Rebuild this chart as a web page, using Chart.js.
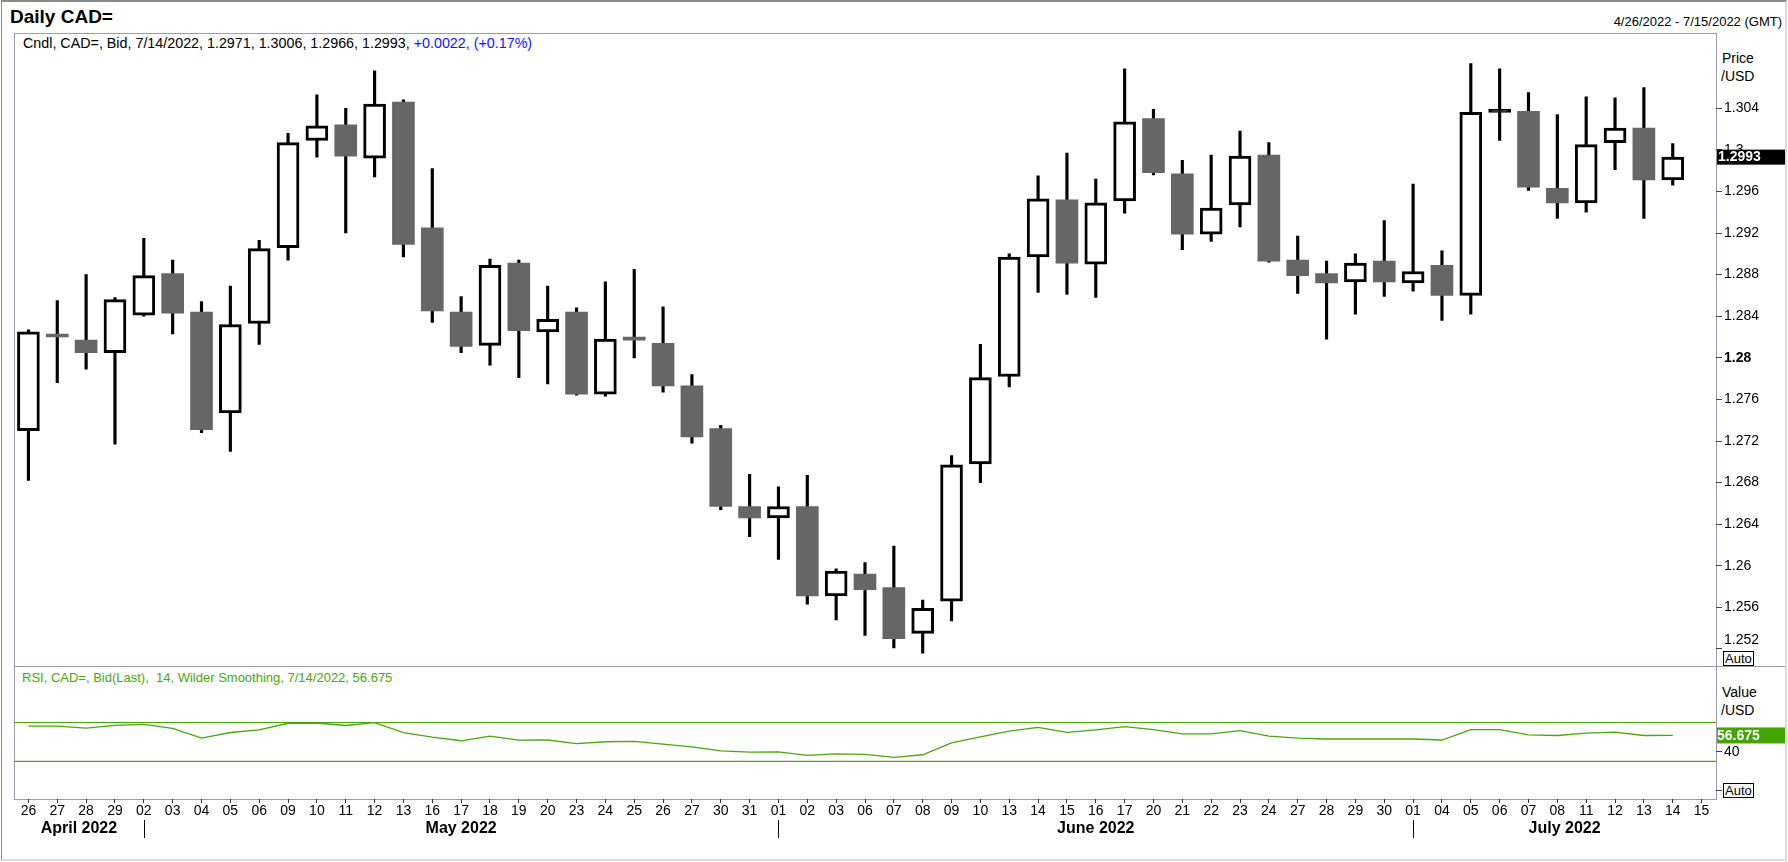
<!DOCTYPE html>
<html>
<head>
<meta charset="utf-8">
<script src="https://cdn.jsdelivr.net/npm/chart.js@4.4.1/dist/chart.umd.min.js"></script>
<style>
  html, body { margin: 0; padding: 0; background: #fff; }
  body { width: 1788px; height: 862px; position: relative; overflow: hidden; font-family: 'Liberation Sans', Arial, sans-serif; color: #000; }
  .frame { position: absolute; left: 1px; top: 0; width: 1786px; height: 861px; box-sizing: border-box;
    border-top: 2px solid #8a8a8a; border-left: 1px solid #8a8a8a; border-right: 2px solid #dcdcdc; border-bottom: 2px solid #dcdcdc; }
  .ln { position: absolute; background: #9c9cac; }
  .txt { position: absolute; white-space: pre; }
  .auto { position: absolute; border: 1px solid #000; font-size: 13px; line-height: 13px; padding: 0 1px; background: #fff; }
  #priceWrap { position: absolute; left: 0; top: 23px; width: 1788px; height: 653px; }
  #rsiWrap { position: absolute; left: 0; top: 656px; width: 1788px; height: 193px; }
</style>
</head>
<body>
<div class="frame"></div>
<div class="ln" style="left:14px;top:33px;width:1703px;height:1px"></div>
<div class="ln" style="left:14px;top:33px;width:1px;height:767px"></div>
<div class="ln" style="left:1716px;top:33px;width:1px;height:767px"></div>
<div class="ln" style="left:14px;top:666px;width:1771px;height:1px"></div>
<div class="ln" style="left:14px;top:799px;width:1703px;height:1px"></div>

<div class="txt" style="left:10px;top:6px;font-size:19px;line-height:22px;font-weight:bold">Daily CAD=</div>
<div class="txt" style="right:6px;top:14px;font-size:13px;line-height:16px">4/26/2022 - 7/15/2022 (GMT)</div>
<div class="txt" style="left:23px;top:34.5px;font-size:14.3px;line-height:16px">Cndl, CAD=, Bid, 7/14/2022, 1.2971, 1.3006, 1.2966, 1.2993, <span style="color:#1414ff">+0.0022, (+0.17%)</span></div>
<div class="txt" style="left:1722px;top:50px;font-size:14px;line-height:16px">Price</div>
<div class="txt" style="left:1721px;top:68px;font-size:14px;line-height:16px">/USD</div>
<div class="auto" style="left:1723px;top:651px">Auto</div>

<div class="txt" style="left:22px;top:670px;font-size:13px;line-height:16px;color:#4da60c">RSI, CAD=, Bid(Last),  14, Wilder Smoothing, 7/14/2022, 56.675</div>
<div class="txt" style="left:1722px;top:684px;font-size:14px;line-height:16px">Value</div>
<div class="txt" style="left:1721px;top:702px;font-size:14px;line-height:16px">/USD</div>
<div class="auto" style="left:1723px;top:783px">Auto</div>

<div id="priceWrap"><canvas id="priceChart"></canvas></div>
<div id="rsiWrap"><canvas id="rsiChart"></canvas></div>

<script>
// trading days 26 Apr - 15 Jul 2022
const days = ['26','27','28','29','02','03','04','05','06','09','10','11','12','13','16','17','18','19','20','23',
  '24','25','26','27','30','31','01','02','03','06','07','08','09','10','13','14','15','16','17','20',
  '21','22','23','24','27','28','29','30','01','04','05','06','07','08','11','12','13','14','15'];
const monthNames = ['April 2022', 'May 2022', 'June 2022', 'July 2022'];
const monthStart = [0, 4, 26, 48];

const opens = [1.2730,1.2821,1.2817,1.2805,1.2841,1.2881,1.2844,1.2747,1.2833,1.2906,
  1.3009,1.3024,1.2992,1.3046,1.2925,1.2844,1.2812,1.2891,1.2825,1.2844,
  1.2765,1.2818,1.2814,1.2773,1.2732,1.2657,1.2646,1.2657,1.2571,1.2592,
  1.2579,1.2535,1.2566,1.2698,1.2782,1.2897,1.2952,1.2890,1.2951,1.3030,
  1.2977,1.2919,1.2947,1.2995,1.2894,1.2881,1.2873,1.2893,1.2872,1.2889,
  1.2860,1.3036,1.3037,1.2963,1.2949,1.3007,1.3021,1.2971];
const highs = [1.2827,1.2855,1.2880,1.2858,1.2915,1.2894,1.2854,1.2869,1.2913,1.3016,
  1.3053,1.3040,1.3076,1.3048,1.2982,1.2859,1.2895,1.2894,1.2869,1.2848,
  1.2873,1.2885,1.2849,1.2784,1.2735,1.2688,1.2676,1.2687,1.2597,1.2603,
  1.2619,1.2567,1.2706,1.2813,1.2900,1.2975,1.2997,1.2972,1.3078,1.3039,
  1.2990,1.2995,1.3018,1.3007,1.2917,1.2893,1.2900,1.2932,1.2967,1.2903,
  1.3083,1.3078,1.3055,1.3034,1.3051,1.3050,1.3060,1.3006];
const lows = [1.2682,1.2776,1.2789,1.2717,1.2840,1.2823,1.2728,1.2710,1.2813,1.2894,
  1.2993,1.2920,1.2974,1.2897,1.2834,1.2805,1.2793,1.2781,1.2775,1.2764,
  1.2763,1.2800,1.2767,1.2718,1.2654,1.2628,1.2606,1.2563,1.2548,1.2533,
  1.2521,1.2516,1.2547,1.2680,1.2772,1.2863,1.2861,1.2858,1.2939,1.2976,
  1.2904,1.2912,1.2926,1.2892,1.2862,1.2818,1.2842,1.2859,1.2864,1.2836,
  1.2842,1.3009,1.2961,1.2934,1.2940,1.2981,1.2934,1.2966];
const closes = [1.2825,1.2820,1.2805,1.2856,1.2879,1.2843,1.2731,1.2832,1.2905,1.3007,
  1.3023,1.2994,1.3044,1.2909,1.2845,1.2811,1.2889,1.2826,1.2837,1.2765,
  1.2818,1.2817,1.2773,1.2724,1.2657,1.2646,1.2657,1.2571,1.2595,1.2577,
  1.2530,1.2559,1.2697,1.2781,1.2897,1.2953,1.2891,1.2949,1.3027,1.2978,
  1.2919,1.2944,1.2994,1.2893,1.2879,1.2872,1.2891,1.2873,1.2883,1.2860,
  1.3036,1.3037,1.2964,1.2949,1.3005,1.3021,1.2971,1.2993];

const rsi = [66.2,66.2,64.2,67.0,68.0,63.9,54.0,59.7,62.4,69.2,
  69.5,66.9,69.8,59.5,55.0,51.2,56.0,51.8,52.0,48.3,
  50.2,50.5,47.7,45.0,40.9,39.5,39.8,36.1,37.8,37.2,
  34.1,36.8,49.1,55.3,61.1,64.9,59.9,62.4,65.8,62.6,
  58.3,58.3,61.6,56.0,54.0,53.0,53.0,53.0,53.0,52.0,
  62.6,62.6,57.3,56.6,59.0,60.0,56.6,56.675];
const rsiLevels = [70, 30];

const priceTicks = [1.252,1.256,1.26,1.264,1.268,1.272,1.276,1.28,1.284,1.288,1.292,1.296,1.3,1.304];
const rsiTicks = [0, 40];

const FONT = '"Liberation Sans", Arial, sans-serif';
const GREEN = '#4da60c';

const bodies = opens.map((o, i) => [o, closes[i]]);
const wicks = lows.map((l, i) => [l, highs[i]]);
const isUp = opens.map((o, i) => closes[i] >= o);
// white doji collapse to a solid black bar
const bodyFill = opens.map((o, i) => {
  if (!isUp[i]) return '#666666';
  return Math.abs(closes[i] - o) < 0.0002 ? '#000' : '#fff';
});

const priceOverlay = {
  id: 'priceOverlay',
  afterDraw(chart) {
    const { ctx, chartArea, scales: { y } } = chart;
    ctx.save();
    ctx.textBaseline = 'middle';
    // lowest tick label sits just above its tick, over the Auto box
    ctx.font = '14px ' + FONT;
    ctx.fillStyle = '#000';
    ctx.fillText(String(priceTicks[0]), chartArea.right + 8, y.getPixelForValue(priceTicks[0]) - 9);
    // last close marker
    const last = closes[closes.length - 1];
    const py = y.getPixelForValue(last);
    ctx.fillRect(chartArea.right + 1, py - 7.5, 68, 15);
    ctx.fillStyle = '#fff';
    ctx.font = 'bold 14px ' + FONT;
    ctx.fillText(last.toFixed(4), chartArea.right + 2, py + 0.5);
    ctx.restore();
  }
};

new Chart(document.getElementById('priceChart'), {
  type: 'bar',
  data: {
    labels: days,
    datasets: [{
      data: wicks,
      backgroundColor: '#000',
      barThickness: 2.5,
      grouped: false,
      order: 2
    }, {
      data: bodies,
      backgroundColor: bodyFill,
      borderColor: '#000',
      borderWidth: isUp.map(u => u ? 3 : 0),
      borderSkipped: false,
      barThickness: 22,
      minBarLength: 3,
      grouped: false,
      order: 1
    }]
  },
  options: {
    responsive: true,
    maintainAspectRatio: false,
    animation: false,
    layout: { padding: { left: 14, top: 10, bottom: 10, right: 0 } },
    plugins: { legend: { display: false }, tooltip: { enabled: false } },
    scales: {
      x: { display: false, offset: true },
      y: {
        position: 'right',
        min: 1.2504,
        max: 1.3112,
        afterBuildTicks: s => { s.ticks = priceTicks.map(v => ({ value: v })); },
        afterFit: s => { s.width = 72; },
        border: { display: false },
        grid: { drawOnChartArea: false, drawTicks: true, tickLength: 6, tickColor: '#444' },
        ticks: {
          color: '#000',
          padding: 2,
          font: c => ({ family: FONT, size: 14, weight: (c.tick && Math.abs(c.tick.value - 1.28) < 1e-9) ? 'bold' : 'normal' }),
          callback: v => Math.abs(v - priceTicks[0]) < 1e-9 ? '' : String(+v.toFixed(3))
        }
      }
    }
  },
  plugins: [priceOverlay]
});

const rsiOverlay = {
  id: 'rsiOverlay',
  beforeDatasetsDraw(chart) {
    const { ctx, chartArea, scales: { y } } = chart;
    ctx.save();
    ctx.strokeStyle = GREEN;
    ctx.lineWidth = 1.2;
    rsiLevels.forEach(v => {
      const py = y.getPixelForValue(v);
      ctx.beginPath();
      ctx.moveTo(chartArea.left, py);
      ctx.lineTo(chartArea.right, py);
      ctx.stroke();
    });
    ctx.restore();
  },
  afterDraw(chart) {
    const { ctx, chartArea, scales: { x, y } } = chart;
    ctx.save();
    // last value marker
    const last = rsi[rsi.length - 1];
    const py = y.getPixelForValue(last);
    ctx.fillStyle = '#43a500';
    ctx.fillRect(chartArea.right + 1, py - 8, 68, 16);
    ctx.fillStyle = '#fff';
    ctx.font = 'bold 14px ' + FONT;
    ctx.textBaseline = 'middle';
    ctx.fillText(last.toFixed(3), chartArea.right + 1, py + 0.5);
    // month separators and names
    const seps = monthStart.map(i => x.getPixelForValue(i));
    ctx.strokeStyle = '#000';
    ctx.lineWidth = 1;
    ctx.fillStyle = '#000';
    ctx.font = 'bold 16px ' + FONT;
    ctx.textAlign = 'center';
    monthNames.forEach((m, k) => {
      const left = k === 0 ? chartArea.left : seps[k];
      const right = k === monthNames.length - 1 ? chartArea.right : seps[k + 1];
      if (k > 0) {
        ctx.beginPath();
        ctx.moveTo(Math.round(left) + 0.5, chartArea.bottom + 21);
        ctx.lineTo(Math.round(left) + 0.5, chartArea.bottom + 39);
        ctx.stroke();
      }
      ctx.fillText(m, (left + right) / 2, chartArea.bottom + 30);
    });
    ctx.restore();
  }
};

new Chart(document.getElementById('rsiChart'), {
  type: 'line',
  data: {
    labels: days,
    datasets: [{
      data: rsi,
      borderColor: GREEN,
      borderWidth: 1.3,
      pointRadius: 0,
      tension: 0,
      fill: false
    }]
  },
  options: {
    responsive: true,
    maintainAspectRatio: false,
    animation: false,
    layout: { padding: { left: 14, top: 10, bottom: 0, right: 0 } },
    plugins: { legend: { display: false }, tooltip: { enabled: false } },
    scales: {
      x: {
        offset: true,
        afterFit: s => { s.height = 50; },
        border: { display: false },
        grid: { offset: false, drawOnChartArea: false, drawTicks: true, tickLength: 4, tickColor: '#333' },
        ticks: { autoSkip: false, maxRotation: 0, padding: 0, color: '#000', font: { family: FONT, size: 14 } }
      },
      y: {
        position: 'right',
        min: -8.7,
        max: 127.7,
        afterBuildTicks: s => { s.ticks = rsiTicks.map(v => ({ value: v })); },
        afterFit: s => { s.width = 72; },
        border: { display: false },
        grid: { drawOnChartArea: false, drawTicks: true, tickLength: 6, tickColor: '#444' },
        ticks: {
          color: '#000',
          padding: 2,
          font: { family: FONT, size: 14 },
          callback: v => v === 0 ? '' : String(v)
        }
      }
    }
  },
  plugins: [rsiOverlay]
});
</script>
</body>
</html>
